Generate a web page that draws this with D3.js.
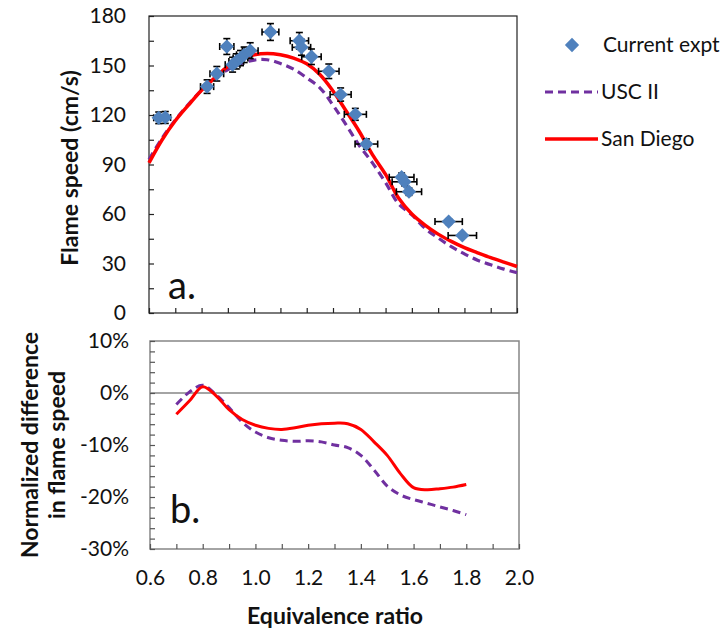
<!DOCTYPE html>
<html>

<head>
    <title>Flame speed</title>
    <style>
        body {
            margin: 0;
            padding: 0;
            background-color: #ffffff;
        }

        svg text {
            font-family: Lato, "Open Sans", sans-serif;
            fill: #111;
        }
    </style>
</head>

<body>
    <div id="container"></div>

    <script src="https://d3js.org/d3.v7.min.js"></script>

    <script>
        // experimental points (equivalence ratio, flame speed, error bars)
        var phiExp = [0.637, 0.662, 0.821, 0.858, 0.896, 0.918, 0.932, 0.948, 0.962, 0.985, 1.062, 1.172, 1.180, 1.218, 1.284, 1.329, 1.385, 1.427, 1.561, 1.572, 1.589, 1.740, 1.792];
        var speedExp = [118.3, 118.5, 137.2, 145.0, 161.5, 150.5, 152.5, 154.5, 156.5, 159.0, 170.3, 165.0, 161.0, 155.3, 146.5, 132.4, 120.4, 102.4, 82.3, 79.5, 73.5, 55.4, 47.0];
        var phiErr = [0.019, 0.020, 0.025, 0.026, 0.027, 0.028, 0.028, 0.028, 0.029, 0.030, 0.032, 0.035, 0.035, 0.037, 0.039, 0.040, 0.042, 0.043, 0.047, 0.047, 0.048, 0.052, 0.054];
        var speedErr = [3.5, 3.6, 4.1, 4.4, 4.8, 4.5, 4.6, 4.6, 4.7, 4.8, 5.1, 5.0, 4.8, 4.7, 4.4, 4.0, 3.6, 3.1, 2.5, 2.4, 2.2, 1.7, 1.4];

        // model curves
        var phiModel = [0.6, 0.65, 0.7, 0.75, 0.8, 0.85, 0.9, 0.95, 1.0, 1.05, 1.1, 1.15, 1.2, 1.25, 1.3, 1.35, 1.4, 1.45, 1.5, 1.55, 1.6, 1.65, 1.7, 1.75, 1.8, 1.85, 1.9, 1.95, 2.0];
        var speedSanDiego = [91, 105, 116.5, 126, 135, 142.5, 149.5, 154, 156.5, 157.3, 156.5, 154.5, 151, 144.5, 134.5, 122.4, 110, 96, 84, 69.5, 60, 53.3, 47.8, 43.4, 39.6, 36.5, 33.5, 30.8, 28.2];
        var speedUSC = [93, 106, 117, 126.5, 135, 142, 147.5, 151, 153.3, 153.5, 151.2, 147.8, 142.5, 136.5, 126, 114, 101.5, 91, 79, 66, 59.5, 51.3, 45.5, 40.2, 35.8, 32, 29.2, 26.6, 24.5];

        // normalized differences (%)
        var phiDiff = [0.7, 0.75, 0.8, 0.85, 0.9, 0.95, 1.0, 1.05, 1.1, 1.15, 1.2, 1.25, 1.3, 1.35, 1.4, 1.45, 1.5, 1.55, 1.6, 1.65, 1.7, 1.75, 1.8];
        var diffSanDiego = [-4.1, -1.5, 1.2, -0.5, -3.2, -5.1, -6.2, -6.8, -7.0, -6.7, -6.2, -5.9, -5.8, -5.9, -7.0, -9.4, -12.0, -15.5, -18.2, -18.6, -18.4, -18.1, -17.6];
        var diffUSC = [-2.2, 0.2, 1.5, -0.3, -2.8, -5.6, -7.5, -8.6, -9.1, -9.3, -9.2, -9.4, -10.0, -10.5, -12.0, -14.8, -17.9, -19.6, -20.5, -21.2, -21.9, -22.6, -23.4];

        var xTicks = [0.6, 0.7, 0.8, 0.9, 1.0, 1.1, 1.2, 1.3, 1.4, 1.5, 1.6, 1.7, 1.8, 1.9, 2.0];
        var speedTicks = [0, 15, 30, 45, 60, 75, 90, 105, 120, 135, 150, 165, 180];
        var diffTicks = [10, 8, 6, 4, 2, 0, -2, -4, -6, -8, -10, -12, -14, -16, -18, -20, -22, -24, -26, -28, -30];

        var svgWidth = 727
        var svgHeight = 634

        var topPlot = { left: 149, right: 517, top: 16, bottom: 313 };
        var botPlot = { left: 150, right: 519, top: 341, bottom: 549 };

        var svg = d3.select("div#container")
            .append("svg")
            .attr("width", svgWidth)
            .attr("height", svgHeight);

        var red = "#ff0000";
        var purple = "#7030a0";
        var blue = "#4f81bd";

        //--------------- top plot

        var x1 = d3.scaleLinear().domain([0.6, 2.0]).range([topPlot.left, topPlot.right]);
        var y1 = d3.scaleLinear().domain([0, 180]).range([topPlot.bottom, topPlot.top]);

        svg.append("rect")
            .attr("x", topPlot.left)
            .attr("y", topPlot.top)
            .attr("width", topPlot.right - topPlot.left)
            .attr("height", topPlot.bottom - topPlot.top)
            .style("fill", "none")
            .style("stroke", "#222")
            .style("stroke-width", 1.2);

        var yAxis1 = svg.append("g")
            .attr("transform", "translate(" + topPlot.left + ",0)")
            .call(d3.axisLeft(y1)
                .tickValues(speedTicks)
                .tickSize(-5)
                .tickPadding(23)
                .tickFormat(function (d) { return d % 30 === 0 ? d : ""; }));

        var xAxis1 = svg.append("g")
            .attr("transform", "translate(0," + topPlot.bottom + ")")
            .call(d3.axisBottom(x1)
                .tickValues(xTicks)
                .tickSize(-5)
                .tickFormat(""));

        [yAxis1, xAxis1].forEach(function (g) {
            g.select(".domain").remove();
            g.selectAll("line").style("stroke", "#222").style("stroke-width", 1.2);
            g.selectAll("text").style("font-size", "21px").style("fill", "#111");
        });

        var line1 = d3.line()
            .x(function (d) { return x1(d[0]); })
            .y(function (d) { return y1(d[1]); })
            .curve(d3.curveCatmullRom.alpha(0.5));

        svg.append("path")
            .datum(d3.zip(phiModel, speedUSC))
            .attr("d", line1)
            .style("fill", "none")
            .style("stroke", purple)
            .style("stroke-width", 3.2)
            .style("stroke-dasharray", "8,5");

        svg.append("path")
            .datum(d3.zip(phiModel, speedSanDiego))
            .attr("d", line1)
            .style("fill", "none")
            .style("stroke", red)
            .style("stroke-width", 3.5);

        // error bars
        var pts = d3.range(phiExp.length);
        var cap = 3.5;
        var errG = svg.append("g").style("stroke", "#000").style("stroke-width", 1.6);

        pts.forEach(function (i) {
            var cx = x1(phiExp[i]), cy = y1(speedExp[i]);
            var xl = x1(phiExp[i] - phiErr[i]), xr = x1(phiExp[i] + phiErr[i]);
            var yt = y1(speedExp[i] + speedErr[i]), yb = y1(speedExp[i] - speedErr[i]);
            errG.append("line").attr("x1", xl).attr("x2", xr).attr("y1", cy).attr("y2", cy);
            errG.append("line").attr("x1", xl).attr("x2", xl).attr("y1", cy - cap).attr("y2", cy + cap);
            errG.append("line").attr("x1", xr).attr("x2", xr).attr("y1", cy - cap).attr("y2", cy + cap);
            errG.append("line").attr("x1", cx).attr("x2", cx).attr("y1", yt).attr("y2", yb);
            errG.append("line").attr("x1", cx - cap).attr("x2", cx + cap).attr("y1", yt).attr("y2", yt);
            errG.append("line").attr("x1", cx - cap).attr("x2", cx + cap).attr("y1", yb).attr("y2", yb);
        });

        var diamond = d3.symbol().type(d3.symbolDiamond2).size(130);

        svg.append("g").selectAll("path")
            .data(pts)
            .enter().append("path")
            .attr("d", diamond)
            .attr("transform", function (i) {
                return "translate(" + x1(phiExp[i]) + "," + y1(speedExp[i]) + ")";
            })
            .style("fill", blue);

        svg.append("text")
            .attr("x", 168)
            .attr("y", 299)
            .style("font-size", "38px")
            .text("a.");

        svg.append("text")
            .attr("transform", "translate(78,168) rotate(-90)")
            .attr("text-anchor", "middle")
            .style("font-size", "23px")
            .style("font-weight", "bold")
            .text("Flame speed (cm/s)");

        //--------------- legend

        svg.append("path")
            .attr("d", diamond)
            .attr("transform", "translate(572,45)")
            .style("fill", blue);

        svg.append("text").attr("x", 603).attr("y", 52).style("font-size", "21px").text("Current expt");

        svg.append("line")
            .attr("x1", 545).attr("x2", 598).attr("y1", 92).attr("y2", 92)
            .style("stroke", purple).style("stroke-width", 3.2).style("stroke-dasharray", "8,5");
        svg.append("text").attr("x", 601).attr("y", 99).style("font-size", "21px").text("USC II");

        svg.append("line")
            .attr("x1", 545).attr("x2", 598).attr("y1", 139).attr("y2", 139)
            .style("stroke", red).style("stroke-width", 3.5);
        svg.append("text").attr("x", 601).attr("y", 146).style("font-size", "21px").text("San Diego");

        //--------------- bottom plot

        var x2 = d3.scaleLinear().domain([0.6, 2.0]).range([botPlot.left, botPlot.right]);
        var y2 = d3.scaleLinear().domain([-30, 10]).range([botPlot.bottom, botPlot.top]);

        svg.append("rect")
            .attr("x", botPlot.left)
            .attr("y", botPlot.top)
            .attr("width", botPlot.right - botPlot.left)
            .attr("height", botPlot.bottom - botPlot.top)
            .style("fill", "none")
            .style("stroke", "#868686")
            .style("stroke-width", 1.5);

        svg.append("line")
            .attr("x1", botPlot.left).attr("x2", botPlot.right)
            .attr("y1", y2(0)).attr("y2", y2(0))
            .style("stroke", "#868686")
            .style("stroke-width", 1.5);

        var yAxis2 = svg.append("g")
            .attr("transform", "translate(" + botPlot.left + ",0)")
            .call(d3.axisLeft(y2)
                .tickValues(diffTicks)
                .tickSize(-5)
                .tickPadding(21)
                .tickFormat(function (d) { return d % 10 === 0 ? d + "%" : ""; }));

        var xAxis2 = svg.append("g")
            .attr("transform", "translate(0," + botPlot.bottom + ")")
            .call(d3.axisBottom(x2)
                .tickValues(xTicks)
                .tickSize(-5)
                .tickPadding(21)
                .tickFormat(function (d) { return Math.round(d * 10) % 2 === 0 ? d.toFixed(1) : ""; }));

        [yAxis2, xAxis2].forEach(function (g) {
            g.select(".domain").remove();
            g.selectAll("line").style("stroke", "#555").style("stroke-width", 1.2);
            g.selectAll("text").style("font-size", "21px").style("fill", "#111");
        });

        var line2 = d3.line()
            .x(function (d) { return x2(d[0]); })
            .y(function (d) { return y2(d[1]); })
            .curve(d3.curveCatmullRom.alpha(0.5));

        svg.append("path")
            .datum(d3.zip(phiDiff, diffUSC))
            .attr("d", line2)
            .style("fill", "none")
            .style("stroke", purple)
            .style("stroke-width", 3)
            .style("stroke-dasharray", "8,5");

        svg.append("path")
            .datum(d3.zip(phiDiff, diffSanDiego))
            .attr("d", line2)
            .style("fill", "none")
            .style("stroke", red)
            .style("stroke-width", 3);

        svg.append("text")
            .attr("x", 170)
            .attr("y", 523)
            .style("font-size", "38px")
            .text("b.");

        svg.append("text")
            .attr("transform", "translate(38,445) rotate(-90)")
            .attr("text-anchor", "middle")
            .style("font-size", "23px")
            .style("font-weight", "bold")
            .text("Normalized difference");

        svg.append("text")
            .attr("transform", "translate(65,445) rotate(-90)")
            .attr("text-anchor", "middle")
            .style("font-size", "23px")
            .style("font-weight", "bold")
            .text("in flame speed");

        svg.append("text")
            .attr("x", 335)
            .attr("y", 624)
            .attr("text-anchor", "middle")
            .style("font-size", "23px")
            .style("font-weight", "bold")
            .text("Equivalence ratio");
    </script>
</body>

</html>
